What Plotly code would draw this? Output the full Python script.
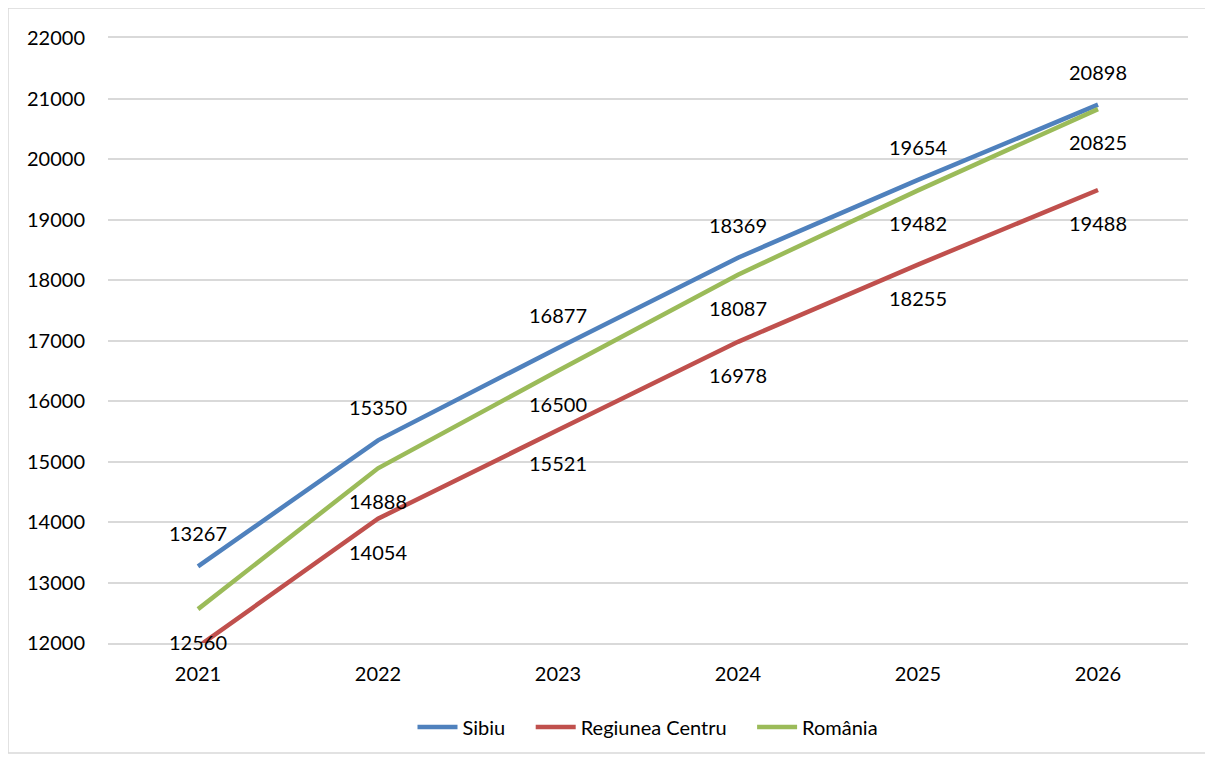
import plotly.graph_objects as go

years = ["2021", "2022", "2023", "2024", "2025", "2026"]
sibiu = [13267, 15350, 16877, 18369, 19654, 20898]
centru = [11940, 14054, 15521, 16978, 18255, 19488]
romania = [12560, 14888, 16500, 18087, 19482, 20825]
centru_labels = ["", "14054", "15521", "16978", "18255", "19488"]

GAP = "\u00a0" * 4
series = [
    ("Sibiu" + GAP, sibiu, "#4F81BD", [str(v) for v in sibiu], 33),
    ("Regiunea Centru" + GAP, centru, "#C0504D", centru_labels, -33),
    ("România", romania, "#9BBB59", [str(v) for v in romania], -33),
]

FONT = "Lato"
fig = go.Figure()
annotations = []
for name, vals, color, labels, shift in series:
    fig.add_trace(go.Scatter(
        x=years, y=vals, name=name, mode="lines",
        line=dict(color=color, width=4.5),
    ))
    for i, (y, t) in enumerate(zip(vals, labels)):
        if t:
            annotations.append(dict(
                x=i, y=y, xref="x", yref="y", text=t, showarrow=False, yshift=shift,
                font=dict(family=FONT, size=20, color="#000000"),
            ))

# page body has an 8px offset
OFF = 8
W, H = 1213 - OFF, 760 - OFF
ml, mr, mt, mb = 108 - OFF, 25, 38 - OFF, 117
pw, ph = W - ml - mr, H - mt - mb
def px(x):
    return (x - OFF - ml) / pw
def py(y):
    return (H - mb - (y - OFF)) / ph

fig.update_layout(
    width=W, height=H,
    margin=dict(l=ml, r=mr, t=mt, b=mb),
    paper_bgcolor="white", plot_bgcolor="white",
    font=dict(family=FONT, size=20, color="#000000"),
    annotations=annotations,
    showlegend=True,
    legend=dict(orientation="h", x=0.5, xanchor="center", y=py(727), yanchor="middle",
                font=dict(family=FONT, size=20, color="#000000"), itemwidth=40),
    shapes=[dict(type="rect", xref="paper", yref="paper",
                 x0=px(8), x1=px(1206), y0=py(753), y1=py(8),
                 line=dict(color="#D9D9D9", width=1.5), layer="below")],
    xaxis=dict(type="category", range=[-0.5, 5.5], showgrid=False, ticks="",
               showline=True, mirror=True, linecolor="#D9D9D9", linewidth=1.5,
               ticklabelstandoff=12, zeroline=False),
    yaxis=dict(range=[12000, 22000], dtick=1000, tickformat="d", showgrid=True,
               gridcolor="#D9D9D9", gridwidth=1.5, ticks="", ticklabelstandoff=22,
               zeroline=False, showline=False),
)
fig.write_html("out.html")
